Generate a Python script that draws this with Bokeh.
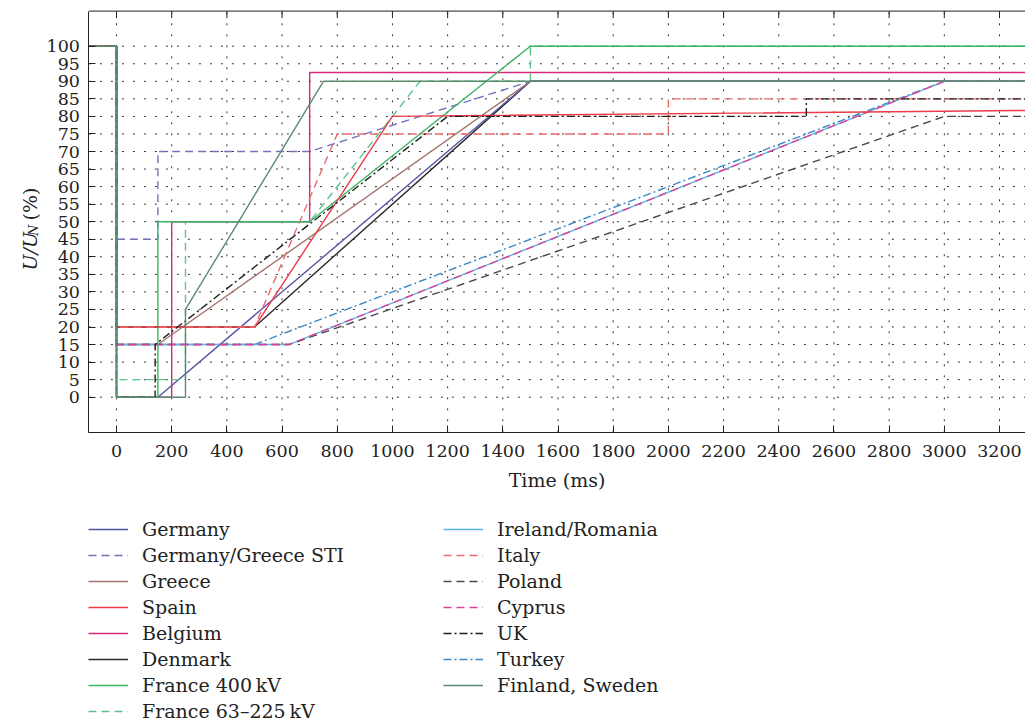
from bokeh.plotting import figure
from bokeh.models import (Legend, LegendItem, FixedTicker, LinearAxis, Range1d, Label, Grid)
from bokeh.embed import file_html
from bokeh.resources import INLINE
import math

# ---------------- data (time in ms, voltage in % of U_N) ----------------
germany_t = [-100, 0, 0, 150, 1500, 3300]
germany_u = [100, 100, 0, 0, 90, 90]

sti_t = [-100, 0, 0, 150, 150, 700, 1500, 3300]
sti_u = [100, 100, 45, 45, 70, 70, 90, 90]

greece_t = [-100, 0, 0, 150, 1500, 3300]
greece_u = [100, 100, 15, 15, 90, 90]

spain_t = [-100, 0, 0, 500, 1000, 3300]
spain_u = [100, 100, 20, 20, 80, 81.7]

belgium_t = [-100, 0, 0, 200, 200, 700, 700, 3300]
belgium_u = [100, 100, 0, 0, 50, 50, 92.5, 92.5]

denmark_t = [-100, 0, 0, 500, 1500, 3300]
denmark_u = [100, 100, 20, 20, 90, 90]

france400_t = [-100, 0, 0, 150, 150, 700, 1500, 3300]
france400_u = [100, 100, 0, 0, 50, 50, 100, 100]

france63_t = [-100, 0, 0, 250, 250, 700, 1100, 1500, 1500, 3300]
france63_u = [100, 100, 5, 5, 50, 50, 90, 90, 100, 100]

ireland_t = [-100, 0, 0, 625, 3000, 3300]
ireland_u = [100, 100, 15, 15, 90, 90]

italy_t = [-100, 0, 0, 500, 800, 2000, 2000, 3300]
italy_u = [100, 100, 20, 20, 75, 75, 85, 85]

poland_t = [-100, 0, 0, 625, 3000, 3300]
poland_u = [100, 100, 15, 15, 80, 80]

cyprus_t = [-100, 0, 0, 625, 3000, 3300]
cyprus_u = [100, 100, 15, 15, 90, 90]

uk_t = [-100, 0, 0, 140, 140, 1200, 2500, 2500, 3300]
uk_u = [100, 100, 0, 0, 15, 80, 80, 85, 85]

turkey_t = [-100, 0, 0, 500, 3000, 3300]
turkey_u = [100, 100, 15, 15, 90, 90]

finland_t = [-100, 0, 0, 250, 250, 750, 3300]
finland_u = [100, 100, 0, 0, 25, 90, 90]

x_ticks = list(range(0, 3201, 200))
y_ticks = list(range(0, 101, 5))

# ---------------- geometry ----------------
W, H = 1025, 722
PX_X = (999 - 116) / 3200.0      # px per ms
PX_Y = 3.51                      # px per %
X0 = -116 / PX_X                 # data x at canvas left
X1 = X0 + W / PX_X               # data x at canvas right
Y1 = 396.7 / PX_Y                # data y at canvas top
Y0 = Y1 - H / PX_Y               # data y at canvas bottom
AX_X0, AX_Y0, AX_Y1 = -100, -10, 110   # axis box (data units)
FONT = "DejaVu Serif"
INK = "#222222"


def dx(page_x):
    return X0 + page_x / PX_X


def dy(page_y):
    return Y1 - page_y / PX_Y


p = figure(width=W, height=H, x_range=Range1d(X0, X1), y_range=Range1d(Y0, Y1),
           output_backend="svg", toolbar_location=None,
           x_axis_location=None, y_axis_location=None, min_border=0,
           background_fill_color="white", border_fill_color="white")
p.outline_line_color = None
for g in p.select(type=Grid):
    g.visible = False

# dotted grid (bounded to the axis box)
nx, ny = len(x_ticks), len(y_ticks)
p.segment(x0=x_ticks, y0=[AX_Y0] * nx, x1=x_ticks, y1=[AX_Y1] * nx,
          line_color="#333333", line_width=1, line_dash="2 9")
p.segment(x0=[AX_X0] * ny, y0=y_ticks, x1=[X1] * ny, y1=y_ticks,
          line_color="#333333", line_width=1, line_dash="2 9")
# top border with inward ticks
p.segment(x0=[AX_X0], y0=[AX_Y1], x1=[X1], y1=[AX_Y1], line_color=INK, line_width=1)
p.segment(x0=x_ticks, y0=[AX_Y1] * nx, x1=x_ticks, y1=[AX_Y1 - 7 / PX_Y] * nx,
          line_color=INK, line_width=1)

xaxis = LinearAxis(fixed_location=AX_Y0, bounds=(AX_X0, X1), ticker=FixedTicker(ticks=x_ticks))
yaxis = LinearAxis(fixed_location=AX_X0, bounds=(AX_Y0, AX_Y1), ticker=FixedTicker(ticks=y_ticks))
for ax in (xaxis, yaxis):
    ax.axis_line_color = INK
    ax.major_tick_line_color = INK
    ax.major_tick_in = 7
    ax.major_tick_out = 0
    ax.minor_tick_line_color = None
    ax.major_label_text_font = FONT
    ax.major_label_text_font_size = "17.5px"
    ax.major_label_text_color = INK
xaxis.major_label_standoff = 13
yaxis.major_label_standoff = 9
xaxis.axis_label = "Time (ms)"
xaxis.axis_label_text_font = FONT
xaxis.axis_label_text_font_size = "19px"
xaxis.axis_label_text_font_style = "normal"
xaxis.axis_label_text_color = INK
xaxis.axis_label_standoff = 8
p.add_layout(xaxis, "below")
p.add_layout(yaxis, "left")

LW = 1.4
style = {
    "Germany": dict(t=germany_t, u=germany_u, color="#5454a6", dash="solid"),
    "Germany/Greece STI": dict(t=sti_t, u=sti_u, color="#7474bc", dash="8 5"),
    "Greece": dict(t=greece_t, u=greece_u, color="#a4766e", dash="solid"),
    "Spain": dict(t=spain_t, u=spain_u, color="#ee3a48", dash="solid"),
    "Belgium": dict(t=belgium_t, u=belgium_u, color="#d8287e", dash="solid"),
    "Denmark": dict(t=denmark_t, u=denmark_u, color="#2a2a2a", dash="solid"),
    "France 400\u2009kV": dict(t=france400_t, u=france400_u, color="#3eb466", dash="solid"),
    "France 63\u2013225\u2009kV": dict(t=france63_t, u=france63_u, color="#5cc48c", dash="8 5"),
    "Ireland/Romania": dict(t=ireland_t, u=ireland_u, color="#58b8e6", dash="solid"),
    "Italy": dict(t=italy_t, u=italy_u, color="#ee6a6a", dash="8 5"),
    "Poland": dict(t=poland_t, u=poland_u, color="#4a4a4a", dash="8 5"),
    "Cyprus": dict(t=cyprus_t, u=cyprus_u, color="#e0409a", dash="8 5"),
    "UK": dict(t=uk_t, u=uk_u, color="#1e1e1e", dash="8 3 2 3"),
    "Turkey": dict(t=turkey_t, u=turkey_u, color="#3a88c6", dash="8 3 2 3"),
    "Finland, Sweden": dict(t=finland_t, u=finland_u, color="#5a8c70", dash="solid"),
}

draw_order = ["Denmark", "Germany", "Greece", "Germany/Greece STI", "Turkey",
              "Ireland/Romania", "Poland", "Cyprus", "Belgium",
              "France 63\u2013225\u2009kV", "France 400\u2009kV", "Spain", "Italy",
              "UK", "Finland, Sweden"]
renderers = {}
for name in draw_order:
    s = style[name]
    renderers[name] = p.line(s["t"], s["u"], line_color=s["color"], line_width=LW,
                             line_dash=s["dash"])

col1 = ["Germany", "Germany/Greece STI", "Greece", "Spain", "Belgium", "Denmark",
        "France 400\u2009kV", "France 63\u2013225\u2009kV"]
col2 = ["Ireland/Romania", "Italy", "Poland", "Cyprus", "UK", "Turkey", "Finland, Sweden"]

ROW_H, SPACE = 22, 4
FIRST_TOP = 518


def make_legend(names, left):
    n = len(names)
    height = n * ROW_H + (n - 1) * SPACE
    bottom = FIRST_TOP + height
    leg = Legend(items=[LegendItem(label=nm, renderers=[renderers[nm]]) for nm in names],
                 location=(left, H - bottom))
    leg.glyph_width = 40
    leg.glyph_height = ROW_H
    leg.label_height = ROW_H
    leg.label_standoff = 14
    leg.spacing = SPACE
    leg.padding = 0
    leg.margin = 0
    leg.border_line_color = None
    leg.background_fill_alpha = 0
    leg.label_text_font = FONT
    leg.label_text_font_size = "19px"
    leg.label_text_color = INK
    leg.label_text_baseline = "middle"
    return leg


p.add_layout(make_legend(col1, 88))
p.add_layout(make_legend(col2, 443))

# ---------------- y axis label: U/U_N (%) ----------------
lab_kw = dict(angle=math.pi / 2, text_font=FONT, text_color=INK, text_align="left",
              text_baseline="alphabetic")
p.add_layout(Label(x=dx(29), y=dy(270), text="U/U", text_font_size="19px",
                   text_font_style="italic", **lab_kw))
p.add_layout(Label(x=dx(33), y=dy(235.5), text="N", text_font_size="13px",
                   text_font_style="italic", **lab_kw))
p.add_layout(Label(x=dx(29), y=dy(220), text="(%)", text_font_size="19px",
                   text_font_style="normal", **lab_kw))

open("out.html", "w").write(file_html(p, INLINE))
